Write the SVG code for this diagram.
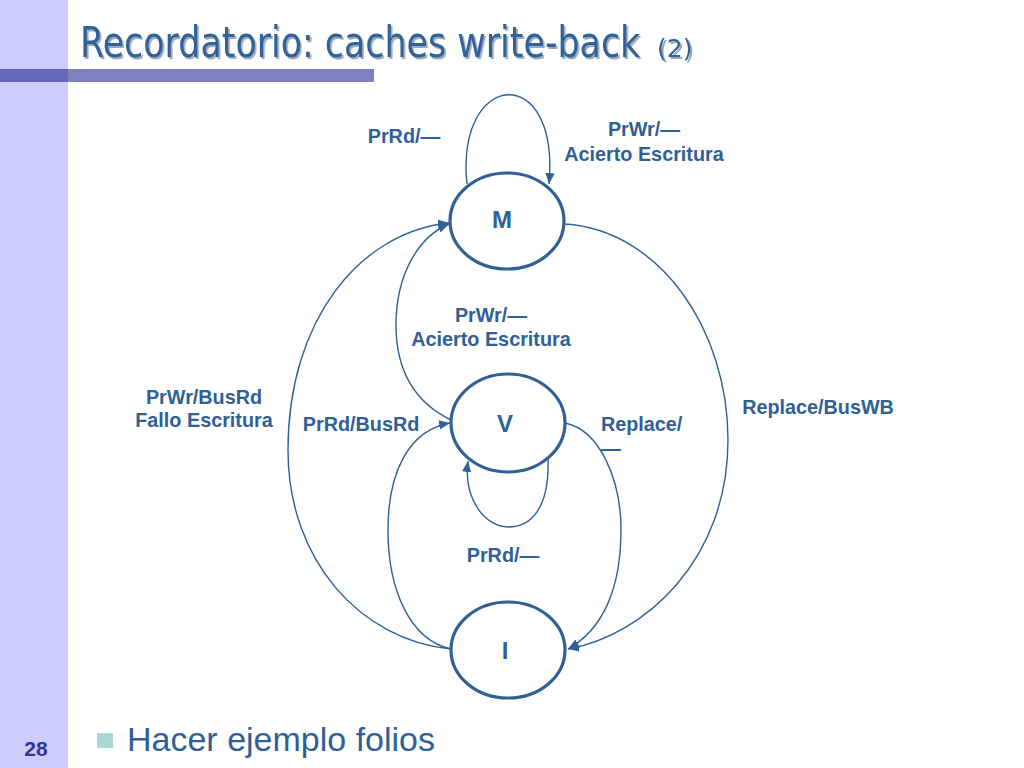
<svg xmlns="http://www.w3.org/2000/svg" width="1024" height="768" viewBox="0 0 1024 768">
  <style>
    .node { fill: #ffffff; stroke: #2f6096; stroke-width: 3.2; }
    .nlab { font-family: "Liberation Sans", Arial, sans-serif; font-weight: bold; font-size: 24px; fill: #2f6096; text-anchor: middle; }
    .lab { font-family: "Liberation Sans", Arial, sans-serif; font-weight: bold; font-size: 19.8px; fill: #2f6096; text-anchor: middle; }
    .labl { text-anchor: start; }
    .edge { fill: none; stroke: #2f6096; stroke-width: 1.4; }
    .title { font-family: "DejaVu Sans", Tahoma, sans-serif; fill: #2e6299; filter: url(#shadow); }
  </style>
  <defs>
    <marker id="arr" viewBox="0 0 10 10" refX="10" refY="5" markerWidth="11" markerHeight="11" markerUnits="userSpaceOnUse" orient="auto">
      <path d="M0,0.8 L10,5 L0,9.2 Z" fill="#2f6096"/>
    </marker>
    <filter id="shadow" x="-5%" y="-20%" width="110%" height="150%">
      <feDropShadow dx="2" dy="2" stdDeviation="0.6" flood-color="#9aa8bd" flood-opacity="1"/>
    </filter>
  </defs>

  <!-- slide background -->
  <rect x="0" y="0" width="1024" height="768" fill="#ffffff"/>
  <rect x="0" y="0" width="68" height="768" fill="#ccccff"/>
  <rect x="68" y="69" width="306" height="13" fill="#8080c0"/>
  <rect x="0" y="69" width="68" height="13" fill="#6666bb"/>

  <!-- title -->
  <g id="title">
    <text class="title" font-size="42" transform="translate(80,57) scale(0.83,1)">Recordatorio: caches write-back</text>
    <text x="657" y="57" class="title" font-size="25">(2)</text>
  </g>

  <!-- connectors -->
  <g id="connectors">
    <!-- M self loop -->
    <path class="edge" d="M467,184 C455,70 560,60 549,184" marker-end="url(#arr)"/>
    <!-- M -> I (Replace/BusWB) -->
    <path class="edge" d="M565,224 C660,230 728,330 728,440 C728,560 645,635 568,649" marker-end="url(#arr)"/>
    <!-- I -> M (PrWr/BusRd) -->
    <path class="edge" d="M451,649 C360,640 288,560 288,450 C288,320 360,232 449,223" marker-end="url(#arr)"/>
    <!-- V -> M (PrWr/-) -->
    <path class="edge" d="M451,420 C410,400 396,365 396,325 C396,275 418,237 449,224" marker-end="url(#arr)"/>
    <!-- I -> V (PrRd/BusRd) -->
    <path class="edge" d="M451,649 C410,640 388,590 388,530 C388,470 410,430 450,423" marker-end="url(#arr)"/>
    <!-- V self loop -->
    <path class="edge" d="M548,457 C550,510 530,527 508,527 C486,527 463,500 468,461" marker-end="url(#arr)"/>
    <!-- V -> I (Replace/-) -->
    <path class="edge" d="M565,423 C600,430 621,480 621,530 C621,590 602,630 568,649" marker-end="url(#arr)"/>
  </g>

  <!-- nodes -->
  <g id="node-M">
    <ellipse class="node" cx="507" cy="221" rx="57" ry="48"/>
    <text class="nlab" x="502" y="228">M</text>
  </g>
  <g id="node-V">
    <ellipse class="node" cx="508" cy="423" rx="57" ry="49"/>
    <text class="nlab" x="505" y="432">V</text>
  </g>
  <g id="node-I">
    <ellipse class="node" cx="508" cy="650" rx="57" ry="48"/>
    <text class="nlab" x="505" y="659">I</text>
  </g>

  <!-- edge labels -->
  <g id="labels">
    <text class="lab" x="404" y="143">PrRd/—</text>
    <text class="lab" x="644" y="136">PrWr/—</text>
    <text class="lab" x="644" y="161">Acierto Escritura</text>
    <text class="lab" x="491" y="322">PrWr/—</text>
    <text class="lab" x="491" y="346">Acierto Escritura</text>
    <text class="lab" x="204" y="404">PrWr/BusRd</text>
    <text class="lab" x="204" y="427">Fallo Escritura</text>
    <text class="lab" x="361" y="431">PrRd/BusRd</text>
    <text class="lab labl" x="601" y="431">Replace/</text>
    <text class="lab labl" x="601" y="455">—</text>
    <text class="lab" x="818" y="414">Replace/BusWB</text>
    <text class="lab" x="503" y="562">PrRd/—</text>
  </g>

  <!-- bullet text -->
  <g id="bullet">
    <rect x="97" y="733" width="16" height="15" fill="#a8d8d8"/>
    <text x="127" y="751" font-family="Liberation Sans, Arial, sans-serif" font-size="34" fill="#2f5f96">Hacer ejemplo folios</text>
  </g>

  <!-- slide number -->
  <text x="36" y="756" font-family="Liberation Sans, Arial, sans-serif" font-weight="bold" font-size="21" fill="#333399" text-anchor="middle">28</text>
</svg>
